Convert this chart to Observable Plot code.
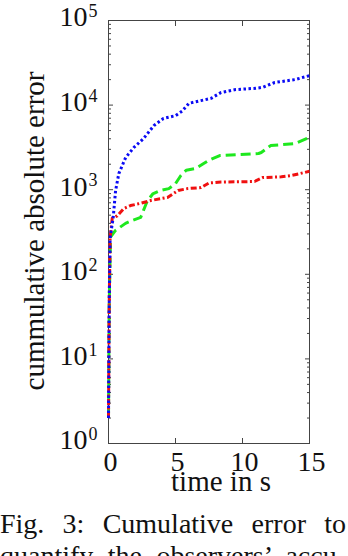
<!DOCTYPE html>
<html>
<head>
<meta charset="utf-8">
<script src="https://cdn.jsdelivr.net/npm/d3@7"></script>
<script src="https://cdn.jsdelivr.net/npm/@observablehq/plot@0.6"></script>
<style>
  html, body { margin: 0; padding: 0; background: #fff; }
  body { width: 348px; height: 556px; overflow: hidden; }
  .cap { font-family: "Liberation Serif", serif; font-size: 28px; line-height: 32px; width: 346px;
         text-align: justify; text-align-last: justify; color: #111; white-space: nowrap; }
  #caption { margin-top: 8px; }
</style>
</head>
<body>
<div id="chart"></div>
<div id="caption">
  <div class="cap">Fig. 3: Cumulative error to</div>
  <div class="cap">quantify the observers’ accu-</div>
</div>
<script>
// ---- data ----
const blueTime  = [0, 0.05, 0.12, 0.35, 0.53, 0.77, 1.28, 1.9, 2.6, 3.4, 4.1, 5.0, 5.5, 6.0, 6.9, 7.65, 8.4, 9.4, 11.0, 11.5, 12.4, 13.9, 15];
const blueValue = [2, 40, 270, 470, 980, 1550, 2400, 3160, 4000, 5750, 6950, 7500, 8500, 10500, 11300, 12000, 14100, 15200, 15800, 16200, 18500, 20000, 22300];

const redTime   = [0, 0.05, 0.12, 0.28, 0.65, 1.15, 1.65, 2.4, 3.15, 4.4, 5.2, 5.9, 6.9, 7.5, 8.4, 10.9, 11.5, 12.9, 13.65, 15];
const redValue  = [2, 40, 270, 460, 490, 600, 650, 690, 745, 810, 980, 1030, 1060, 1200, 1230, 1250, 1390, 1420, 1470, 1650];

const greenTime  = [0, 0.05, 0.15, 0.52, 1.27, 1.8, 2.4, 2.9, 3.3, 3.9, 4.5, 5.0, 5.4, 5.8, 6.5, 7.1, 7.5, 8.3, 11.2, 11.4, 12.1, 13.9, 15];
const greenValue = [2, 40, 275, 330, 400, 435, 470, 740, 890, 980, 1030, 1180, 1470, 1700, 1780, 2040, 2230, 2530, 2680, 2750, 3320, 3500, 4150];

const xTicks = [0, 5, 10, 15];
const yDecades = [1, 10, 100, 1000, 10000, 100000];
const yExponents = ["0", "1", "2", "3", "4", "5"];
const yMinor = [];
for (let k = 0; k < 5; k++) for (let m = 2; m <= 9; m++) yMinor.push(m * Math.pow(10, k));
const xLabel = "time in s";
const yLabel = "cummulative absolute error";

const toRows = (T, V) => T.map((t, i) => ({t, v: V[i]}));
const green = toRows(greenTime, greenValue);
const red = toRows(redTime, redValue);
const blue = toRows(blueTime, blueValue);

const FONT = "Liberation Serif, serif";
const ink = "#444";

const chart = Plot.plot({
  width: 348,
  height: 500,
  marginLeft: 108,
  marginRight: 39,
  marginTop: 20,
  marginBottom: 57,
  style: {fontFamily: FONT, background: "#fff", color: "#111"},
  x: {domain: [0, 15], axis: null},
  y: {type: "log", domain: [1, 1e5], axis: null},
  marks: [
    // inward ticks
    Plot.axisX(xTicks, {anchor: "bottom", tickSize: -5, tickFormat: () => "", stroke: ink, label: null}),
    Plot.axisX(xTicks, {anchor: "top", tickSize: -5, tickFormat: () => "", stroke: ink, label: null}),
    Plot.axisY(yDecades, {anchor: "left", tickSize: -5, tickFormat: () => "", stroke: ink, label: null}),
    Plot.axisY(yDecades, {anchor: "right", tickSize: -5, tickFormat: () => "", stroke: ink, label: null}),
    Plot.axisY(yMinor, {anchor: "left", tickSize: -3, tickFormat: () => "", stroke: ink, label: null}),
    Plot.axisY(yMinor, {anchor: "right", tickSize: -3, tickFormat: () => "", stroke: ink, label: null}),
    Plot.frame({stroke: ink, strokeWidth: 1}),
    // tick labels
    Plot.text(xTicks, {x: d => d, frameAnchor: "bottom", lineAnchor: "middle", dy: 18.5, dx: 2, text: d => String(d), fontSize: 28, fill: "#111"}),
    Plot.text(yDecades, {y: d => d, frameAnchor: "left", lineAnchor: "middle", dx: -21, dy: -3, textAnchor: "end", text: () => "10", fontSize: 28, fill: "#111"}),
    Plot.text(yDecades, {y: d => d, frameAnchor: "left", lineAnchor: "middle", dx: -20, dy: -9, textAnchor: "start", text: (d, i) => yExponents[i], fontSize: 18, fill: "#111"}),
    // axis titles
    Plot.text([xLabel], {frameAnchor: "bottom", lineAnchor: "middle", textAnchor: "middle", dx: 12, dy: 38, text: d => d, fontSize: 29, fill: "#111"}),
    Plot.text([yLabel], {frameAnchor: "left", lineAnchor: "middle", textAnchor: "middle", dx: -74, dy: -1, rotate: -90, text: d => d, fontSize: 29, fill: "#111"}),
    // series
    Plot.line(green, {x: "t", y: "v", stroke: "#1ee81e", strokeWidth: 3, strokeDasharray: "10,5", strokeLinecap: "butt"}),
    Plot.line(red, {x: "t", y: "v", stroke: "#f01010", strokeWidth: 3, strokeDasharray: "6,2.5,2,2.5", strokeLinecap: "butt"}),
    Plot.line(blue, {x: "t", y: "v", stroke: "#0a0af5", strokeWidth: 3, strokeDasharray: "2.5,2.5", strokeLinecap: "butt"})
  ]
});
document.getElementById("chart").appendChild(chart);
</script>
</body>
</html>
